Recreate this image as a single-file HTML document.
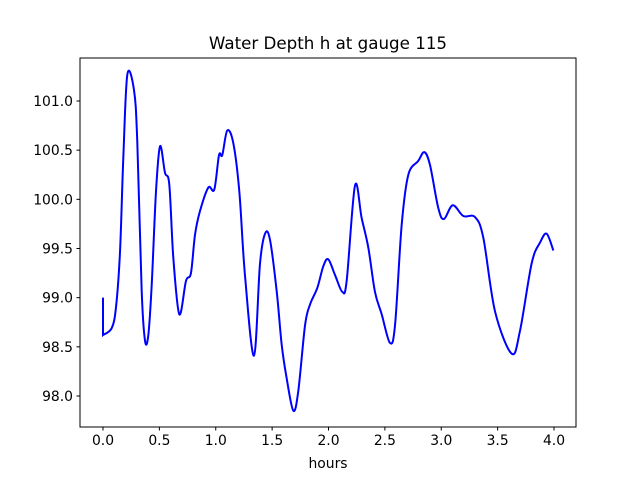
<!DOCTYPE html>
<html><head><meta charset="utf-8"><style>
body{margin:0;background:#fff;}
svg{display:block;font-family:"DejaVu Sans","Liberation Sans",sans-serif;}
</style></head><body>
<svg id="chart" width="640" height="480" viewBox="0 0 640 480">
<rect x="0" y="0" width="640" height="480" fill="#fff"/>
<text x="328" y="49" text-anchor="middle" font-size="16.7">Water Depth h at gauge 115</text>
<text x="328" y="468" text-anchor="middle" font-size="13.9">hours</text>
<g id="xticks"></g>
<g id="yticks"></g>
<path id="line" fill="none" stroke="#0000ff" stroke-width="2"/>
<rect x="80" y="58" width="496" height="369" fill="none" stroke="#000" stroke-width="1"/>
</svg>
<script>
const hours=[0,0,0.077,0.115,0.151,0.180,0.216,0.275,0.304,0.343,0.373,0.402,0.432,0.470,0.506,0.550,0.588,0.624,0.677,0.736,0.780,0.816,0.860,0.934,0.987,1.029,1.058,1.102,1.156,1.209,1.259,1.339,1.392,1.437,1.481,1.541,1.585,1.629,1.688,1.732,1.792,1.836,1.901,1.954,1.998,2.058,2.122,2.161,2.235,2.294,2.353,2.412,2.472,2.545,2.590,2.649,2.708,2.796,2.850,2.900,2.974,3.024,3.102,3.196,3.299,3.373,3.477,3.625,3.698,3.802,3.876,3.935,3.994];
const depth=[99.00,98.62,98.69,98.90,99.47,100.42,101.27,101.11,100.59,99.07,98.56,98.62,99.13,100.08,100.54,100.27,100.15,99.40,98.83,99.17,99.25,99.64,99.88,100.12,100.10,100.45,100.45,100.70,100.57,100.08,99.23,98.41,99.34,99.65,99.59,99.06,98.52,98.18,97.85,98.05,98.72,98.93,99.10,99.32,99.39,99.23,99.06,99.17,100.14,99.81,99.51,99.06,98.83,98.54,98.72,99.74,100.25,100.39,100.48,100.35,99.91,99.80,99.94,99.83,99.82,99.61,98.86,98.43,98.66,99.35,99.56,99.65,99.48];
const xTickLabels=["0.0","0.5","1.0","1.5","2.0","2.5","3.0","3.5","4.0"];
const yTickLabels=["98.0","98.5","99.0","99.5","100.0","100.5","101.0"];
const X=v=>103+v*112.75;
const Y=v=>101+(101-v)*98.33;
const NS="http://www.w3.org/2000/svg";
const xg=document.getElementById('xticks'),yg=document.getElementById('yticks');
xTickLabels.forEach(t=>{const px=X(parseFloat(t));
 const l=document.createElementNS(NS,'line');l.setAttribute('x1',px);l.setAttribute('x2',px);l.setAttribute('y1',427);l.setAttribute('y2',430.5);l.setAttribute('stroke','#000');
 
 xg.appendChild(l);
 const s=document.createElementNS(NS,'text');s.setAttribute('x',px);s.setAttribute('y',445);s.setAttribute('text-anchor','middle');s.setAttribute('font-size','13.9');s.textContent=t;
 
 xg.appendChild(s);});
yTickLabels.forEach(t=>{const py=Y(parseFloat(t));
 const l=document.createElementNS(NS,'line');l.setAttribute('x1',76.5);l.setAttribute('x2',80);l.setAttribute('y1',py);l.setAttribute('y2',py);l.setAttribute('stroke','#000');
 
 yg.appendChild(l);
 const s=document.createElementNS(NS,'text');s.setAttribute('x',73);s.setAttribute('y',py+5);s.setAttribute('text-anchor','end');s.setAttribute('font-size','13.9');s.textContent=t;
 
 yg.appendChild(s);});
const P=hours.map((h,i)=>[X(h),Y(depth[i])]);
let d='M'+P[0][0]+','+P[0][1]+' L'+P[1][0]+','+P[1][1];
for(let i=1;i<P.length-1;i++){const p0=P[Math.max(1,i-1)],p1=P[i],p2=P[i+1],p3=P[Math.min(P.length-1,i+2)];
 const c1=[p1[0]+(p2[0]-p0[0])/6,p1[1]+(p2[1]-p0[1])/6],c2=[p2[0]-(p3[0]-p1[0])/6,p2[1]-(p3[1]-p1[1])/6];
 d+=' C'+c1[0]+','+c1[1]+' '+c2[0]+','+c2[1]+' '+p2[0]+','+p2[1];}
document.getElementById('line').setAttribute('d',d);
</script>
</body></html>
